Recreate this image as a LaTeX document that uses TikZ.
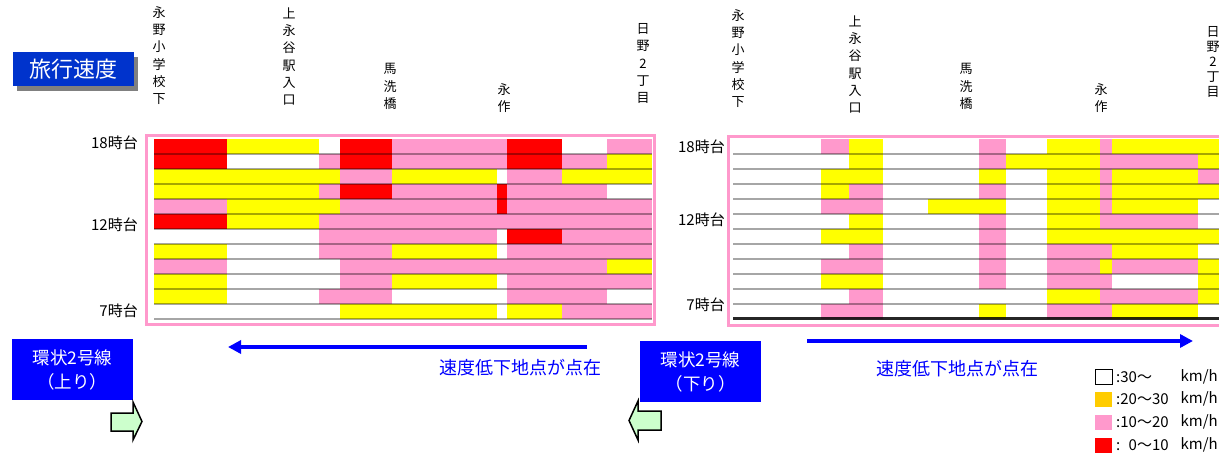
\documentclass[tikz,border=0pt]{standalone}
\usepackage{fontspec}
\usepackage{xcolor}
\usetikzlibrary{arrows.meta,shadows}
\newfontfamily\jp{Noto Sans CJK JP}
\definecolor{v0}{HTML}{FF0000}
\definecolor{v10}{HTML}{FF99CC}
\definecolor{v20}{HTML}{FFFF00}
\definecolor{legy}{HTML}{FFCC00}
\definecolor{hdblue}{HTML}{0033CC}
\definecolor{rtblue}{HTML}{0000FF}
\definecolor{arrgreen}{HTML}{CCFFCC}

\begin{document}
\begin{tikzpicture}[x=1pt,y=-1pt]
    \tikzset{every node/.style={inner sep=0pt},
        titlebox/.style={fill=hdblue, text=white, minimum width=121pt, minimum height=34pt,
            font=\jp\fontsize{22}{24}\selectfont,
            drop shadow={shadow xshift=4pt, shadow yshift=-5pt, fill=gray, opacity=1}},
        station/.style={font=\jp\fontsize{13}{17.2}\selectfont, align=center, anchor=north},
        hour/.style={font=\jp\fontsize{15}{18}\selectfont, anchor=east},
        routebox/.style={fill=rtblue, text=white, minimum width=121pt, minimum height=61pt,
            align=center, font=\jp\fontsize{17.5}{24}\selectfont},
        trend/.style={draw=rtblue, line width=4pt, -{Triangle[length=13pt,width=13pt]}},
        note/.style={text=rtblue, font=\jp\fontsize{18}{20}\selectfont},
        dirarrow/.style={draw=black, line width=1.5pt, fill=arrgreen, line join=miter},
        frame/.style={draw=v10, line width=3pt},
        rowline/.style={draw=black, opacity=0.35, line width=2.5pt},
        legbox/.style={minimum width=17pt, minimum height=15pt},
        legtext/.style={font=\jp\fontsize{15}{16}\selectfont}}
    \useasboundingbox (0,0) rectangle (1219,463);
    \fill[white] (0,0) rectangle (1219,463);

    \node[titlebox] (title) at (73.5,69) {旅行速度};

    % upbound (left)
    \foreach \r/\segs in {
        1/{154/227/v0,227/319/v20,340/392/v0,392/507/v10,507/562/v0,607/652/v10},
        2/{154/227/v0,319/340/v10,340/392/v0,392/507/v10,507/562/v0,562/607/v10,607/652/v20},
        3/{154/340/v20,340/392/v10,392/497/v20,507/562/v10,562/652/v20},
        4/{154/319/v20,319/340/v10,340/392/v0,392/497/v10,497/507/v0,507/607/v10},
        5/{154/227/v10,227/340/v20,340/497/v10,497/507/v0,507/652/v10},
        6/{154/227/v0,227/319/v20,319/652/v10},
        7/{319/497/v10,507/562/v0,562/652/v10},
        8/{154/227/v20,319/392/v10,392/497/v20,507/652/v10},
        9/{154/227/v10,340/607/v10,607/652/v20},
        10/{154/227/v20,340/392/v10,392/497/v20,507/652/v10},
        11/{154/227/v20,319/392/v10,507/607/v10},
        12/{340/497/v20,507/562/v20,562/652/v10}} {
        \foreach \a/\b/\c in \segs
            \fill[\c] (\a,{124+15*\r}) rectangle (\b,{139+15*\r});
    }
    \foreach \i in {1,...,12}
        \draw[rowline] (154,{139+15*\i}) -- (652,{139+15*\i});
    \draw[frame] (146.5,135.5) rectangle (654.5,324.5);

    % downbound (right)
    \foreach \r/\segs in {
        1/{821/849/v10,849/883/v20,979/1006/v10,1047/1100/v20,1100/1112/v10,1112/1222/v20},
        2/{849/883/v20,979/1006/v10,1006/1100/v20,1100/1198/v10,1198/1222/v20},
        3/{821/883/v20,979/1006/v20,1047/1100/v20,1100/1112/v10,1112/1198/v20,1198/1222/v10},
        4/{821/849/v20,849/883/v10,979/1006/v10,1047/1100/v20,1100/1112/v10,1112/1222/v20},
        5/{821/883/v10,928/1006/v20,1047/1100/v20,1100/1112/v10,1112/1198/v20},
        6/{849/883/v20,979/1006/v10,1047/1100/v20,1100/1198/v10},
        7/{821/883/v20,979/1006/v10,1047/1222/v20},
        8/{849/883/v10,979/1006/v10,1047/1112/v10,1112/1198/v20},
        9/{821/883/v10,979/1006/v10,1047/1100/v10,1100/1112/v20,1112/1198/v10,1198/1222/v20},
        10/{821/883/v20,979/1006/v10,1047/1112/v10,1198/1222/v20},
        11/{849/883/v10,1047/1100/v20,1100/1198/v10,1198/1222/v20},
        12/{821/883/v10,979/1006/v20,1047/1112/v10,1112/1198/v20}} {
        \foreach \a/\b/\c in \segs
            \fill[\c] (\a,{124+15*\r}) rectangle (\b,{139+15*\r});
    }
    \foreach \i in {1,...,11}
        \draw[rowline] (733,{139+15*\i}) -- (1222,{139+15*\i});
    \draw[black, opacity=0.85, line width=2.5pt] (733,318.5) -- (1222,318.5);
    \draw[frame] (728,136.3) rectangle (1226,325.5);

    % stops
    \node[station] (lA) at (159,6.5) {永\\野\\小\\学\\校\\下};
    \node[station] (lB) at (289,7.5) {上\\永\\谷\\駅\\入\\口};
    \node[station] (lC) at (390,63.5) {馬\\洗\\橋};
    \node[station] (lD) at (504,83.5) {永\\作};
    \node[station] (lE) at (643,23.5) {日\\野\\2\\丁\\目};
    \node[station] (rA) at (738,9.5) {永\\野\\小\\学\\校\\下};
    \node[station] (rB) at (855,15.5) {上\\永\\谷\\駅\\入\\口};
    \node[station] (rC) at (966,63.5) {馬\\洗\\橋};
    \node[station] (rD) at (1101,83.5) {永\\作};
    \node[station, font=\jp\fontsize{13}{15}\selectfont] (rE) at (1213,26.5) {日\\野\\2\\丁\\目};

    \node[hour] (lh18) at (138,143) {18時台};
    \node[hour] (lh12) at (138,225) {12時台};
    \node[hour] (lh7) at (138,311) {7時台};
    \node[hour] (rh18) at (725,147) {18時台};
    \node[hour] (rh12) at (725,220) {12時台};
    \node[hour] (rh7) at (725,305) {7時台};

    % bottom
    \node[routebox] (upbox) at (72.5,369.5) {環状2号線\\（上り）};
    \node[routebox] (dnbox) at (700.5,371.5) {環状2号線\\（下り）};
    \draw[dirarrow] (111,413) -- (133,413) -- (133,402) -- (142,421.5)
        -- (133,440) -- (133,431) -- (111,431) -- cycle;
    \draw[dirarrow] (661,411) -- (638,411) -- (638,401) -- (629,420.5)
        -- (638,440) -- (638,430) -- (661,430) -- cycle;

    \coordinate (lt0) at (587,347);
    \coordinate (lt1) at (228,347);
    \coordinate (rt0) at (807,341);
    \coordinate (rt1) at (1193,341);
    \draw[trend] (lt0) -- (lt1);
    \draw[trend] (rt0) -- (rt1);
    \node[note] (lnote) at (520.5,368) {速度低下地点が点在};
    \node[note] (rnote) at (957.5,369) {速度低下地点が点在};

    % legend
    \node[legbox, draw=black, line width=1pt, fill=white] (k30) at (1103.5,377) {};
    \node[legbox, fill=legy] (k20) at (1103.5,399) {};
    \node[legbox, fill=v10] (k10) at (1103.5,422) {};
    \node[legbox, fill=v0] (k0) at (1103.5,445) {};
    \node[legtext, anchor=west] (t30) at (1116,377) {:30～};
    \node[legtext, anchor=west] (t20) at (1116,399) {:20～30};
    \node[legtext, anchor=west] (t10) at (1116,422) {:10～20};
    \node[legtext, anchor=west] (t0) at (1116,445) {:\phantom{1}0～10};
    \foreach \n/\y in {u30/377,u20/399,u10/422,u0/445}
        \node[legtext, anchor=east] (\n) at (1218,\y) {km/h};
\end{tikzpicture}
\end{document}
